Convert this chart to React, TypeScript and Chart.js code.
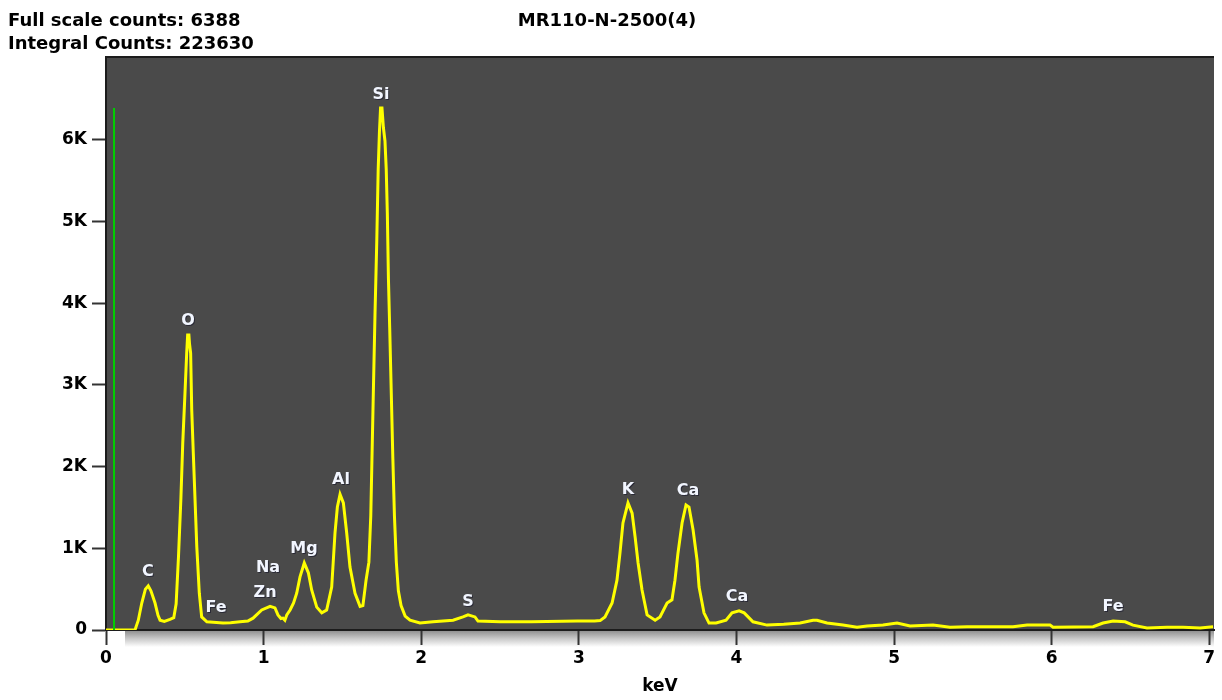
import React, { useEffect, useRef } from 'react';
import { Chart, registerables } from 'chart.js';

Chart.register(...registerables);

// ---- data ----
const energyKeV = [
  0.0, 0.184, 0.205, 0.227, 0.25, 0.268, 0.285, 0.311, 0.33, 0.343, 0.37, 0.406, 0.43, 0.445, 0.46,
  0.475, 0.487, 0.5, 0.512, 0.518, 0.526, 0.53, 0.537, 0.544, 0.554, 0.565, 0.576, 0.592, 0.607, 0.64,
  0.68, 0.742, 0.79, 0.85, 0.9, 0.933, 0.988, 1.041, 1.072, 1.091, 1.11, 1.123, 1.135, 1.147, 1.168,
  1.19, 1.21, 1.231, 1.258, 1.284, 1.305, 1.337, 1.369, 1.4, 1.432, 1.453, 1.468, 1.485, 1.506, 1.527,
  1.548, 1.58, 1.612, 1.63, 1.65, 1.668, 1.68, 1.687, 1.695, 1.707, 1.718, 1.727, 1.735, 1.742, 1.751,
  1.76, 1.77, 1.778, 1.785, 1.792, 1.8, 1.81, 1.82, 1.83, 1.842, 1.855, 1.872, 1.898, 1.929,
  1.992, 2.075, 2.202, 2.265, 2.297, 2.341, 2.36, 2.5, 2.7, 2.989, 3.1, 3.135, 3.166, 3.211, 3.242,
  3.261, 3.28, 3.312, 3.338, 3.357, 3.376, 3.401, 3.433, 3.484, 3.515, 3.56, 3.591, 3.61, 3.629, 3.655,
  3.68, 3.699, 3.725, 3.75, 3.763, 3.794, 3.826, 3.871, 3.934, 3.972, 4.017, 4.049, 4.105, 4.194, 4.3,
  4.404, 4.486, 4.511, 4.575, 4.676, 4.765, 4.829, 4.93, 5.019, 5.102, 5.247, 5.355, 5.463, 5.755, 5.844,
  5.99, 6.009, 6.263, 6.326, 6.39, 6.466, 6.516, 6.605, 6.732, 6.834, 6.942, 7.024,
];
const counts = [
  0, 0, 120, 330, 500, 540, 480, 330, 180, 120, 105, 130, 150, 320, 900,
  1600, 2290, 2850, 3390, 3610, 3610, 3500, 3390, 2690, 2160, 1590, 1020, 450, 160, 100,
  95, 85, 90, 100, 110, 145, 245, 290, 270, 185, 140, 145, 120, 185, 245,
  330, 450, 650, 820, 700, 490, 280, 210, 245, 525, 1190, 1505, 1660, 1555, 1190,
  770, 450, 290, 300, 610, 830, 1400, 2056, 2800, 3890, 4760, 5640, 6100, 6388, 6388,
  6150, 5985, 5640, 5100, 4300, 3700, 2900, 2100, 1400, 832, 480, 300, 170, 120,
  85, 100, 120, 160, 185, 160, 110, 100, 100, 110, 110, 115, 160, 330, 610,
  940, 1310, 1555, 1430, 1140, 820, 490, 185, 120, 160, 330, 370, 610, 940, 1310,
  1530, 1505, 1224, 857, 525, 210, 85, 85, 120, 210, 235, 210, 100, 60, 70,
  85, 120, 120, 85, 60, 35, 50, 60, 85, 50, 60, 35, 40, 40, 60,
  60, 35, 40, 85, 110, 100, 60, 25, 35, 35, 25, 40,
];

const markerKeV = [0.051, 0.051];
const markerCounts = [0, 6388];

const peakLabels = ['C', 'O', 'Fe', 'Na', 'Zn', 'Mg', 'Al', 'Si', 'S', 'K', 'Ca', 'Ca', 'Fe'];
const peakLabelKeV = [0.266, 0.52, 0.698, 1.028, 1.009, 1.256, 1.491, 1.745, 2.297, 3.312, 3.693, 4.004, 6.39];
const peakLabelCounts = [710, 3782, 270, 760, 453, 990, 1836, 6548, 343, 1714, 1701, 404, 282];

const xTickValues = [0, 1, 2, 3, 4, 5, 6, 7];
const yTickValues = [0, 1000, 2000, 3000, 4000, 5000, 6000];
const yTickLabels = ['0', '1K', '2K', '3K', '4K', '5K', '6K'];

const chartTitle = 'MR110-N-2500(4)';
const infoLines = ['Full scale counts: 6388', 'Integral Counts: 223630'];
const xAxisTitle = 'keV';

const X_MAX = 7.03;
const Y_MAX = 7013;

const FONT = '"DejaVu Sans", Verdana, sans-serif';

const decorPlugin = {
  id: 'decor',
  beforeDraw(chart: any) {
    const { ctx, chartArea: a } = chart;
    ctx.save();
    // shadow under plot
    const g = ctx.createLinearGradient(0, a.bottom, 0, a.bottom + 17);
    g.addColorStop(0, '#8a8a8a');
    g.addColorStop(0.5, '#c8c8c8');
    g.addColorStop(1, '#ffffff');
    ctx.fillStyle = g;
    ctx.fillRect(a.left + 19, a.bottom, a.right - a.left - 19, 17);
    // plot background
    ctx.fillStyle = '#4a4a4a';
    ctx.fillRect(a.left, a.top, a.right - a.left, a.bottom - a.top);
    // top border
    ctx.fillStyle = '#1c1c1c';
    ctx.fillRect(a.left, a.top - 1, a.right - a.left, 2);
    ctx.restore();
  },
  afterDatasetsDraw(chart: any) {
    const { ctx } = chart;
    const xs = chart.scales.x;
    const ys = chart.scales.y;
    ctx.save();
    ctx.font = `bold 16px ${FONT}`;
    ctx.textAlign = 'center';
    ctx.textBaseline = 'middle';
    peakLabels.forEach((t, i) => {
      const px = xs.getPixelForValue(peakLabelKeV[i]);
      const py = ys.getPixelForValue(peakLabelCounts[i]);
      ctx.fillStyle = 'rgba(20,20,40,0.6)';
      ctx.fillText(t, px + 1, py + 1);
      ctx.fillStyle = '#f2f6ff';
      ctx.fillText(t, px, py);
    });
    ctx.restore();
  },
  afterDraw(chart: any) {
    const { ctx } = chart;
    ctx.save();
    ctx.fillStyle = '#000';
    ctx.font = `bold 18px ${FONT}`;
    ctx.textBaseline = 'alphabetic';
    ctx.textAlign = 'left';
    ctx.fillText(infoLines[0], 8, 26);
    ctx.fillText(infoLines[1], 8, 49);
    ctx.textAlign = 'center';
    ctx.fillText(chartTitle, 607, 26);
    ctx.restore();
  },
};

export default function App() {
  const ref = useRef<HTMLCanvasElement | null>(null);
  useEffect(() => {
    if (!ref.current) return;
    const spectrum = energyKeV.map((e, i) => ({ x: e, y: counts[i] }));
    const marker = markerKeV.map((e, i) => ({ x: e, y: markerCounts[i] }));
    const chart = new Chart(ref.current, {
      type: 'line',
      data: {
        datasets: [
          {
            data: marker,
            borderColor: '#00d000',
            borderWidth: 2,
            pointRadius: 0,
            tension: 0,
          },
          {
            data: spectrum,
            borderColor: '#ffff00',
            borderWidth: 3,
            borderJoinStyle: 'miter',
            pointRadius: 0,
            tension: 0,
          },
        ],
      },
      plugins: [decorPlugin],
      options: {
        animation: false,
        responsive: false,
        maintainAspectRatio: false,
        layout: { padding: { left: 0, top: 57, right: 8, bottom: 0 } },
        plugins: { legend: { display: false }, tooltip: { enabled: false }, title: { display: false } },
        scales: {
          x: {
            type: 'linear',
            min: 0,
            max: X_MAX,
            afterFit: (s: any) => {
              s.height = 70;
            },
            afterBuildTicks: (s: any) => {
              s.ticks = xTickValues.map((v) => ({ value: v }));
            },
            ticks: {
              stepSize: 1,
              includeBounds: false,
              color: '#000',
              font: { family: FONT, size: 17, weight: 'bold' },
              padding: 3,
              maxRotation: 0,
              callback: (v: any) => String(v),
            },
            grid: { drawOnChartArea: false, drawTicks: true, tickLength: 15, tickColor: '#333', tickWidth: 2 },
            border: { color: '#1c1c1c', width: 2 },
            title: {
              display: true,
              text: xAxisTitle,
              color: '#000',
              font: { family: FONT, size: 17, weight: 'bold' },
              padding: { top: 0, bottom: 3 },
            },
          },
          y: {
            type: 'linear',
            min: 0,
            max: Y_MAX,
            afterFit: (s: any) => {
              s.width = 106;
            },
            afterBuildTicks: (s: any) => {
              s.ticks = yTickValues.map((v) => ({ value: v }));
            },
            ticks: {
              stepSize: 1000,
              includeBounds: false,
              color: '#000',
              font: { family: FONT, size: 17, weight: 'bold' },
              padding: 5,
              callback: (v: any) => {
                const i = yTickValues.indexOf(v);
                return i >= 0 ? yTickLabels[i] : '';
              },
            },
            grid: { drawOnChartArea: false, drawTicks: true, tickLength: 14, tickColor: '#333', tickWidth: 2 },
            border: { color: '#1c1c1c', width: 2 },
          },
        },
      },
    } as any);
    return () => chart.destroy();
  }, []);

  return (
    <div style={{ position: 'fixed', left: 0, top: 0, width: 1222, height: 700, background: '#fff' }}>
      <canvas ref={ref} width={1222} height={700} style={{ display: 'block', width: 1222, height: 700 }} />
    </div>
  );
}
